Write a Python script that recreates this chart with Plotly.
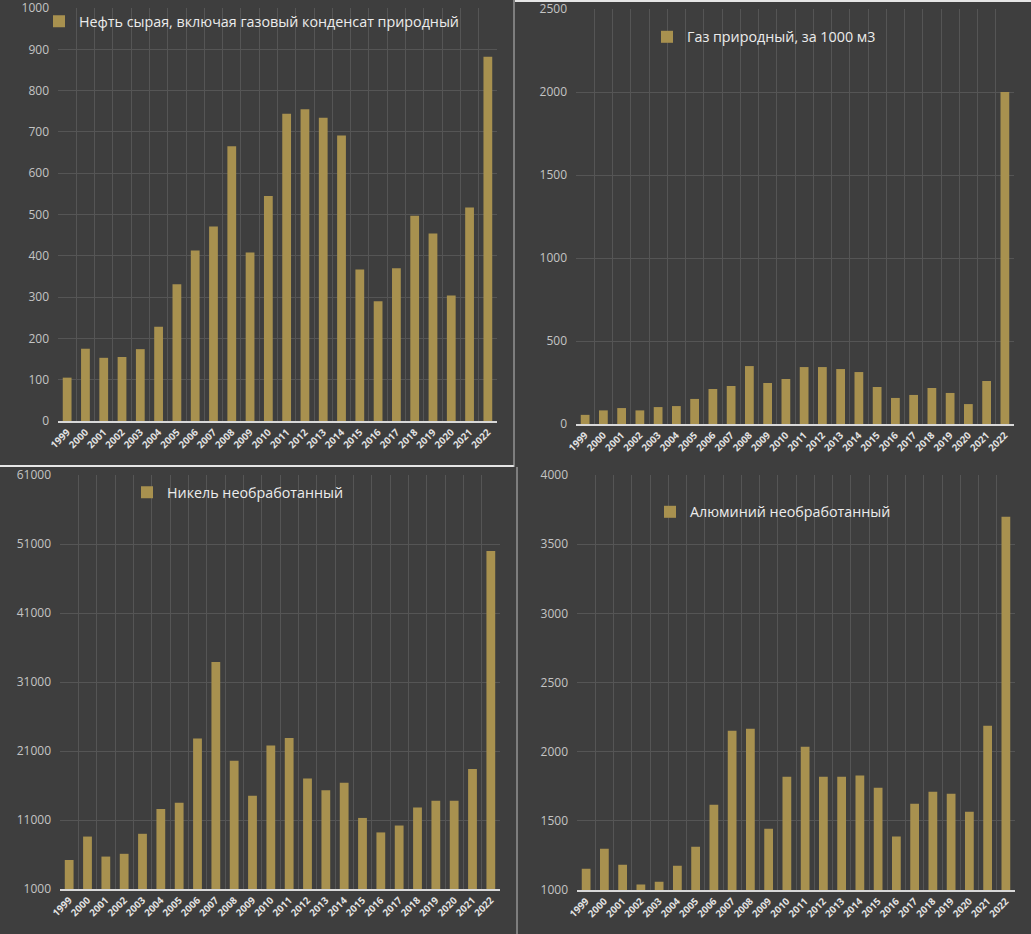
import plotly.graph_objects as go

W, H = 1031, 934

years = [str(y) for y in range(1999, 2023)]

oil = [105, 175, 153, 155, 174, 228, 331, 413, 471, 665, 408, 545,
       744, 755, 734, 691, 367, 290, 370, 497, 454, 304, 517, 882]
gas = [55, 82, 96, 82, 102, 108, 151, 211, 229, 349, 247, 271,
       343, 343, 331, 313, 223, 157, 175, 217, 187, 120, 259, 2000]
nickel = [5200, 8600, 5700, 6100, 9000, 12600, 13500, 22800, 33900, 19600, 14500, 21800,
          22900, 17000, 15300, 16400, 11300, 9200, 10200, 12800, 13800, 13800, 18400, 50000]
aluminium = [1154, 1299, 1183, 1039, 1060, 1176, 1313, 1617, 2152, 2166, 1443, 1819,
             2036, 1819, 1819, 1827, 1740, 1386, 1624, 1711, 1696, 1566, 2188, 3699]

names = [
    "Нефть сырая, включая газовый конденсат природный",
    "Газ природный, за 1000 м3",
    "Никель необработанный",
    "Алюминий необработанный",
]

BG = "#3e3e3e"
BAR = "#a8914f"
GRID = "#555555"

# panel plot areas in pixels: x0, x1, y_top, y_bottom
panels = [
    (58, 497, 8, 421),
    (576, 1014, 9, 424),
    (60, 500, 475, 889),
    (577, 1015, 475, 890),
]
ranges = [(0, 1000, 0, 100), (0, 2500, 0, 500), (1000, 61000, 1000, 10000), (1000, 4000, 1000, 500)]
# legend icon centre (px) – shifted a bit left because plotly's icon/text gap is wider
legend_pos = [(59, 21.5), (667, 37), (147, 492.5), (670, 512)]
series = [oil, gas, nickel, aluminium]


def px(x):
    return x / W


def py(y):
    return 1 - y / H


fig = go.Figure()
layout = dict(
    width=W,
    height=H,
    margin=dict(l=0, r=0, t=0, b=0, pad=0),
    paper_bgcolor=BG,
    plot_bgcolor=BG,
    bargap=0.52,
    showlegend=True,
    font=dict(family="Open Sans", color="#d0d0d0"),
)

for i, (vals, name) in enumerate(zip(series, names)):
    n = "" if i == 0 else str(i + 1)
    x0, x1, yt, yb = panels[i]
    lo, hi, t0, dt = ranges[i]
    fig.add_trace(
        go.Bar(
            x=years,
            y=vals,
            name=name,
            showlegend=True,
            marker=dict(color=BAR, line=dict(width=0)),
            xaxis="x" + n,
            yaxis="y" + n,
            legend="legend" + n,
        )
    )
    layout["xaxis" + n] = dict(
        domain=[px(x0), px(x1)],
        anchor="y" + n,
        type="category",
        automargin=False,
        tickangle=-45,
        tickson="boundaries",
        ticks="",
        showgrid=True,
        gridcolor=GRID,
        gridwidth=1,
        showline=True,
        linecolor="#d8d8d8",
        linewidth=1.5,
        ticklabeloverflow="allow",
        tickfont=dict(size=9.8, color="#e2e2e2", weight="bold"),
    )
    layout["yaxis" + n] = dict(
        domain=[py(yb), py(yt)],
        anchor="x" + n,
        automargin=False,
        range=[lo, hi],
        tick0=t0,
        dtick=dt,
        tickformat="d",
        showgrid=True,
        gridcolor=GRID,
        gridwidth=1,
        zeroline=False,
        ticks="",
        ticklabelstandoff=8,
        ticklabeloverflow="allow",
        tickfont=dict(size=12, color="#c4c4c4"),
    )
    lx, ly = legend_pos[i]
    layout["legend" + n] = dict(
        visible=True,
        x=px(lx - 20),
        y=py(ly),
        xanchor="left",
        yanchor="middle",
        bgcolor="rgba(0,0,0,0)",
        font=dict(size=14.3, color="#ececec"),
    )

line_style = dict(color="#e6e6e6", width=2)
layout["shapes"] = [
    dict(type="line", xref="paper", yref="paper", x0=0, x1=px(514), y0=py(466), y1=py(466), line=line_style),
    dict(type="line", xref="paper", yref="paper", x0=px(514), x1=px(514), y0=py(0), y1=py(467),
         line=dict(color="#bdbdbd", width=1)),
    dict(type="line", xref="paper", yref="paper", x0=px(517), x1=px(517), y0=py(467), y1=py(934),
         line=dict(color="#bdbdbd", width=1)),
    dict(type="line", xref="paper", yref="paper", x0=px(515), x1=1, y0=py(1), y1=py(1), line=line_style),
]

fig.update_layout(**layout)
# drop the browser's default 8px body margin so the figure fills the window
fig.write_html(
    "out.html",
    config={"displayModeBar": False},
    post_script="document.body.style.margin='0px';",
)
